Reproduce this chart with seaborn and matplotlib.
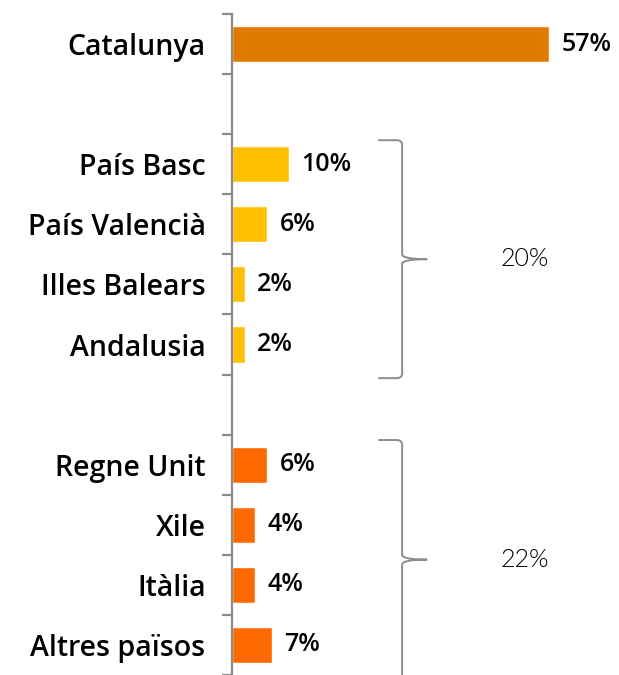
import matplotlib.pyplot as plt
import matplotlib.patches as mpatches
from matplotlib.path import Path
from matplotlib.ticker import FixedLocator
import pandas as pd
import numpy as np
import seaborn as sns

# data
regions = ['Catalunya', 'País Basc', 'País Valencià', 'Illes Balears', 'Andalusia',
           'Regne Unit', 'Xile', 'Itàlia', 'Altres països']
shares = [57, 10.2, 6.3, 2.3, 2.3, 6.3, 4.2, 4.2, 7.2]
labels = ['57%', '10%', '6%', '2%', '2%', '6%', '4%', '4%', '7%']
groups = ['cat', 'esp', 'esp', 'esp', 'esp', 'ext', 'ext', 'ext', 'ext']
group_totals = {'esp': '20%', 'ext': '22%'}

# empty slots between groups
order = ['Catalunya', ' ', 'País Basc', 'País Valencià', 'Illes Balears', 'Andalusia',
         '  ', 'Regne Unit', 'Xile', 'Itàlia', 'Altres països']
colors = {'cat': '#E07B00', 'esp': '#FFC000', 'ext': '#FF6A00'}

df = pd.DataFrame({'region': regions, 'share': shares, 'grup': groups})

sns.set_style('white')
plt.rcParams['font.family'] = ['Open Sans', 'DejaVu Sans']

fig = plt.figure(figsize=(6.19, 6.75), dpi=100)
ax = fig.add_axes([232 / 619, 0, 1 - 232 / 619, 1 - 14 / 675])

sns.barplot(data=df, x='share', y='region', hue='grup', order=order,
            palette=colors, dodge=False, width=0.6, legend=False, ax=ax,
            saturation=1, orient='h')

# label each bar with its value
for cont, g in zip(ax.containers, ['cat', 'esp', 'ext']):
    labs = [l for l, gg in zip(labels, groups) if gg == g]
    ax.bar_label(cont, labels=labs, padding=9, fontsize=18, fontweight='semibold', color='black')

ax.set_xlim(0, 69.6)
ax.set_ylim(10.5, -0.5)
ax.set_xlabel('')
ax.set_ylabel('')

for s in ['top', 'right', 'bottom']:
    ax.spines[s].set_visible(False)
ax.spines['left'].set_color('#8C8C8C')
ax.spines['left'].set_linewidth(1.6)
ax.set_xticks([])
ax.yaxis.set_minor_locator(FixedLocator(np.arange(-0.5, 11, 1)))
ax.tick_params(axis='y', which='major', length=0, pad=19, labelsize=20.5, labelcolor='black')
ax.tick_params(axis='y', which='minor', left=True, length=7, width=1.6, color='#8C8C8C')
for t in ax.get_yticklabels():
    t.set_fontweight('semibold')


def brace(ax, y0, y1, xa=26.3, xv=30.6, xt=35.1, rx=1.0, ry=0.08):
    ym = (y0 + y1) / 2
    verts = [(xa, y0), (xv - rx, y0), (xv, y0), (xv, y0 + ry),
             (xv, ym - ry), (xv, ym), (xt, ym), (xv, ym), (xv, ym + ry),
             (xv, y1 - ry), (xv, y1), (xv - rx, y1), (xa, y1)]
    codes = [Path.MOVETO, Path.LINETO, Path.CURVE3, Path.CURVE3,
             Path.LINETO, Path.CURVE3, Path.CURVE3, Path.CURVE3, Path.CURVE3,
             Path.LINETO, Path.CURVE3, Path.CURVE3, Path.LINETO]
    ax.add_patch(mpatches.PathPatch(Path(verts, codes), fill=False,
                                    edgecolor='#8C8C8C', linewidth=1.4, clip_on=False))
    return ym


ym = brace(ax, 1.6, 5.56)
ax.text(52.7, ym, group_totals['esp'], ha='center', va='center', fontsize=18,
        fontweight=300, color='black', family=['Lato', 'DejaVu Sans'])
ym = brace(ax, 6.59, 10.57)
ax.text(52.7, ym, group_totals['ext'], ha='center', va='center', fontsize=18,
        fontweight=300, color='black', family=['Lato', 'DejaVu Sans'])

plt.savefig('out.png', dpi=100)
plt.close()
